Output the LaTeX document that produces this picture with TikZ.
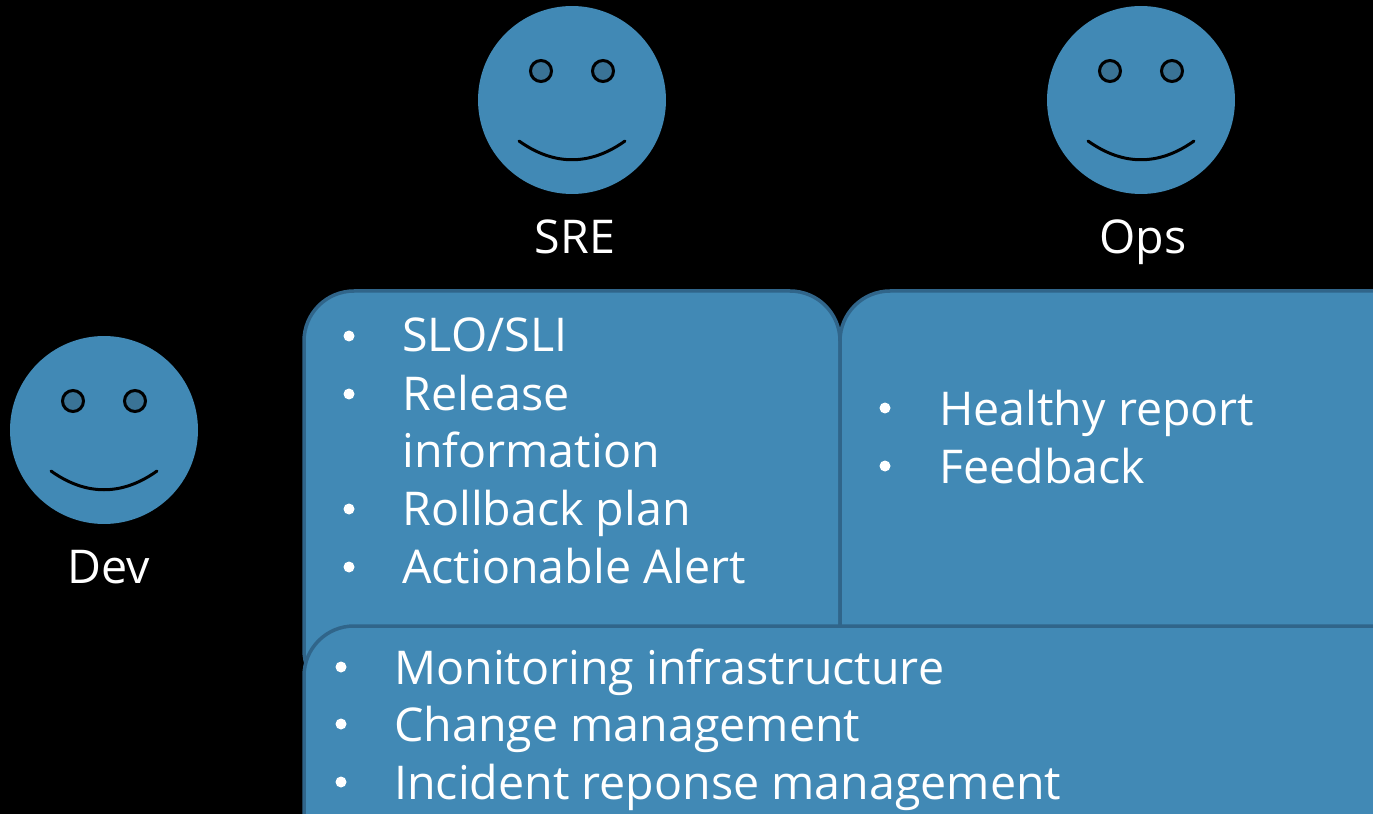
\documentclass[tikz,border=0pt]{standalone}
\usepackage{fontspec}
\setmainfont{Open Sans}
\definecolor{faceblue}{HTML}{4189B5}
\definecolor{edgeblue}{HTML}{30658A}
\definecolor{eyeblue}{HTML}{3A7396}
\tikzset{
    panel/.style={draw=edgeblue, line width=0.07cm, fill=faceblue, rounded corners=1cm},
    face/.style={circle, fill=faceblue, minimum size=3.76cm, inner sep=0pt},
    eye/.style={circle, draw=black, line width=0.06cm, fill=eyeblue, minimum size=0.42cm, inner sep=0pt},
    label/.style={text=white, font=\fontsize{26.5}{32}\selectfont, inner sep=0pt},
    item/.style={label, anchor=base west},
    dot/.style={circle, fill=white, minimum size=0.22cm, inner sep=0pt}
}
\begin{document}
\begin{tikzpicture}[x=0.02cm, y=-0.02cm]
    \fill[black] (0,0) rectangle (1373,814);
    \useasboundingbox (0,0) rectangle (1373,814);
    \clip (0,0) rectangle (1373,814);

    \foreach \name/\x/\y in {sre/572/100, ops/1141/100, dev/104/430} {
        \node[face] (\name) at (\x,\y) {};
        \node[eye] (\name-left) at (\x-31,\y-29) {};
        \node[eye] (\name-right) at (\x+31,\y-29) {};
        \draw[black, line width=0.06cm, line cap=round]
            (\x-53,\y+41) .. controls (\x-18,\y+66) and (\x+18,\y+66) .. (\x+53,\y+41);
    }

    \node[label, anchor=base] (sre-label) at (575,254) {SRE};
    \node[label, anchor=base] (ops-label) at (1143,254) {Ops};
    \node[label, anchor=base] (dev-label) at (109,583) {Dev};

    \path[panel] (304,291) rectangle (840,700);
    \path[panel] (840,291) rectangle (1440,700);
    \path[panel] (304,626) rectangle (1440,860);

    \node[dot] (dot-slo) at (349,336) {};
    \node[dot] (dot-release) at (349,394) {};
    \node[dot] (dot-rollback) at (349,509) {};
    \node[dot] (dot-alert) at (349,567) {};
    \node[item] (slo) at (402,352) {SLO/SLI};
    \node[item] (release) at (402,410) {Release};
    \node[item] (info) at (402,467) {information};
    \node[item] (rollback) at (402,525) {Rollback plan};
    \node[item] (alert) at (402,583) {Actionable Alert};

    \node[dot] (dot-healthy) at (885,408) {};
    \node[dot] (dot-feedback) at (885,466) {};
    \node[item] (healthy) at (939,425) {Healthy report};
    \node[item] (feedback) at (939,483) {Feedback};

    \node[dot] (dot-monitoring) at (341,667) {};
    \node[dot] (dot-change) at (341,724) {};
    \node[dot] (dot-incident) at (341,782) {};
    \node[item] (monitoring) at (394,684) {Monitoring infrastructure};
    \node[item] (change) at (394,741) {Change management};
    \node[item] (incident) at (394,799) {Incident reponse management};
\end{tikzpicture}
\end{document}
